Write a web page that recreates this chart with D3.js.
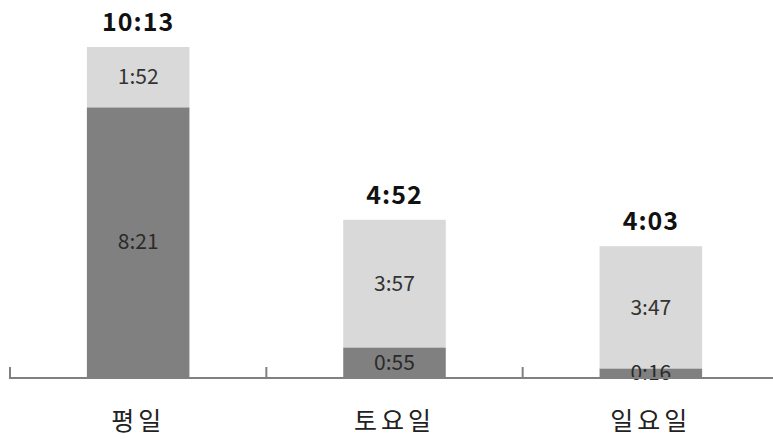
<!DOCTYPE html>
<html>
<head>
<meta charset="utf-8">
<script src="https://cdn.jsdelivr.net/npm/d3@7"></script>
<style>
	body { margin: 0; background: #fff; }
	svg { display: block; font-family: "Noto Sans CJK KR", "Noto Sans", sans-serif; }
</style>
</head>
<body>
<svg width="773" height="439"></svg>
<script>
'use strict';

// time use per day type (h:mm)
const categories = ["평일", "토요일", "일요일"];
const bottomTimes = ["8:21", "0:55", "0:16"];
const topTimes = ["1:52", "3:57", "3:47"];
const totalTimes = ["10:13", "4:52", "4:03"];

function toMinutes(s) {
	const p = s.split(":");
	return (+p[0]) * 60 + (+p[1]);
}

const rows = categories.map((c, i) => ({
	name: c,
	bottom: toMinutes(bottomTimes[i]),
	top: toMinutes(topTimes[i]),
	total: toMinutes(totalTimes[i]),
	bottomLabel: bottomTimes[i],
	topLabel: topTimes[i],
	totalLabel: totalTimes[i]
}));

const svg = d3.select("svg");
const baseY = 377;

const x = d3.scaleBand()
	.domain(categories)
	.range([10, 779])
	.paddingInner(0.6)
	.paddingOuter(0.3);

const y = d3.scaleLinear()
	.domain([0, d3.max(rows, d => d.total)])
	.range([baseY, 47]);

const bars = svg.append("g").selectAll("g")
	.data(rows)
	.enter().append("g");

// dark bottom segment
bars.append("rect")
	.attr("x", d => x(d.name))
	.attr("width", x.bandwidth())
	.attr("y", d => y(d.bottom))
	.attr("height", d => baseY - y(d.bottom))
	.attr("fill", "#808080");

// light top segment
bars.append("rect")
	.attr("x", d => x(d.name))
	.attr("width", x.bandwidth())
	.attr("y", d => y(d.bottom + d.top))
	.attr("height", d => y(d.bottom) - y(d.bottom + d.top))
	.attr("fill", "#d9d9d9");

const cx = d => x(d.name) + x.bandwidth() / 2;

bars.append("text")
	.attr("x", cx)
	.attr("y", d => (y(d.bottom) + baseY) / 2)
	.attr("dy", "0.35em")
	.attr("text-anchor", "middle")
	.attr("font-size", 21)
	.attr("fill", "#2a2a2a")
	.text(d => d.bottomLabel);

bars.append("text")
	.attr("x", cx)
	.attr("y", d => (y(d.bottom) + y(d.bottom + d.top)) / 2)
	.attr("dy", "0.35em")
	.attr("text-anchor", "middle")
	.attr("font-size", 21)
	.attr("fill", "#333")
	.text(d => d.topLabel);

bars.append("text")
	.attr("x", cx)
	.attr("y", d => y(d.total) - 16)
	.attr("text-anchor", "middle")
	.attr("font-size", 25)
	.attr("font-weight", "bold")
	.attr("letter-spacing", 1)
	.attr("fill", "#111")
	.text(d => d.totalLabel);

// axis line and ticks at band boundaries
svg.append("line")
	.attr("x1", 10).attr("x2", 773)
	.attr("y1", baseY + 1).attr("y2", baseY + 1)
	.attr("stroke", "#808080")
	.attr("stroke-width", 2);

const step = x.step();
svg.append("g").selectAll("line")
	.data(d3.range(categories.length + 1))
	.enter().append("line")
	.attr("x1", i => 10 + i * step)
	.attr("x2", i => 10 + i * step)
	.attr("y1", baseY - 10)
	.attr("y2", baseY + 2)
	.attr("stroke", "#808080")
	.attr("stroke-width", 2);

svg.append("g").selectAll("text")
	.data(categories)
	.enter().append("text")
	.attr("x", d => x(d) + x.bandwidth() / 2)
	.attr("y", 430)
	.attr("text-anchor", "middle")
	.attr("font-size", 25)
	.attr("letter-spacing", 4)
	.attr("fill", "#222")
	.text(d => d);
</script>
</body>
</html>
